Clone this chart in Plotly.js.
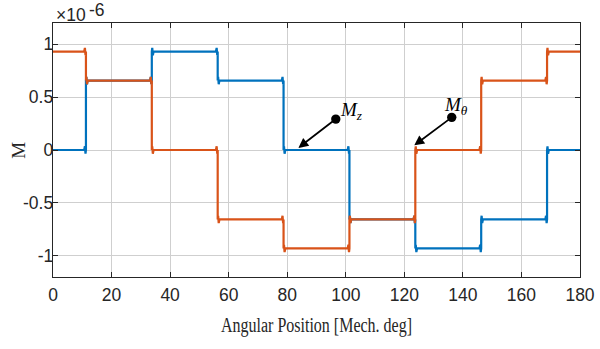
<!DOCTYPE html>
<html>
<head>
<meta charset="utf-8">
<script src="https://cdn.plot.ly/plotly-3.0.1.min.js"></script>
<style>
  html, body { margin: 0; padding: 0; background: #fff; }
  #chart { width: 600px; height: 349px; }
  /* narrow, tall serif look for the x-axis caption */
  #chart .xtitle { transform-box: fill-box; transform-origin: center; transform: scaleX(0.8); }
</style>
</head>
<body>
<div id="chart"></div>
<script>
// Switching angles (mech. deg) where both components step
const edges = [11.25, 33.75, 56.25, 78.75, 101.25, 123.75, 146.25, 168.75];
// Plateau levels between the edges, in units of 1e-6
const mzLevels = [0, 0.656, 0.93, 0.656, 0, -0.656, -0.93, -0.656, 0];
const mthetaLevels = [0.93, 0.656, 0, -0.656, -0.93, -0.656, 0, 0.656, 0.93];
// Small ringing at each plateau edge, in units of 1e-6
const ripple = 0.035;
const xStart = 0, xEnd = 180;
const tickX = [0, 20, 40, 60, 80, 100, 120, 140, 160, 180];
const tickY = [-1, -0.5, 0, 0.5, 1];
const tickYText = ['-1', '-0.5', '0', '0.5', '1'];

// Build a stepped waveform with short ringing on both sides of each edge
function stepped(levels) {
  const x = [xStart], y = [levels[0]];
  edges.forEach((e, i) => {
    const a = levels[i], b = levels[i + 1];
    x.push(e - 0.6, e - 0.35, e - 0.15, e);
    y.push(a, a + ripple, a - ripple, a);
    x.push(e, e + 0.15, e + 0.35, e + 0.6);
    y.push(b, b + ripple, b - ripple, b);
  });
  x.push(xEnd); y.push(levels[levels.length - 1]);
  return { x, y };
}

const mz = stepped(mzLevels);
const mth = stepped(mthetaLevels);

const ink = '#262626';
const sans = 'Liberation Sans, Arial, sans-serif';
const serif = 'Liberation Serif, Times New Roman, serif';

const traces = [
  { x: mz.x, y: mz.y, mode: 'lines', name: 'Mz',
    line: { color: '#0072BD', width: 2.2 }, hoverinfo: 'skip' },
  { x: mth.x, y: mth.y, mode: 'lines', name: 'Mθ',
    line: { color: '#D95319', width: 2.2 }, hoverinfo: 'skip' }
];

const axisCommon = {
  showgrid: true, gridcolor: '#cfcfcf', gridwidth: 1,
  showline: true, linecolor: ink, linewidth: 1.3, mirror: 'ticks',
  ticks: 'inside', ticklen: 5, tickwidth: 1, tickcolor: ink,
  zeroline: false,
  tickfont: { family: sans, size: 17.5, color: ink }
};

const pointer = (tipX, tipY, tailX, tailY) => ({
  x: tipX, y: tipY, ax: tailX, ay: tailY,
  xref: 'x', yref: 'y', axref: 'x', ayref: 'y',
  showarrow: true, arrowside: 'end+start', arrowhead: 2, arrowsize: 1.1,
  startarrowhead: 6, startarrowsize: 1.3,
  arrowwidth: 1.8, arrowcolor: '#000', text: ''
});

const label = (text, x, y) => ({
  x: x, y: y, xref: 'x', yref: 'y', xanchor: 'left', yanchor: 'bottom',
  showarrow: false, text: text,
  font: { family: serif, size: 19, color: '#000' }
});

const layout = {
  width: 600, height: 349,
  margin: { l: 53, r: 20, t: 23, b: 72 },
  paper_bgcolor: '#fff', plot_bgcolor: '#fff',
  showlegend: false,
  xaxis: Object.assign({}, axisCommon, {
    range: [xStart, xEnd], tickvals: tickX, ticklabelstandoff: 2,
    title: { text: 'Angular Position [Mech. deg]', standoff: 13,
      font: { family: serif, size: 20, color: ink } }
  }),
  yaxis: Object.assign({}, axisCommon, {
    range: [-1.2, 1.2], tickvals: tickY, ticktext: tickYText, ticklabelstandoff: -5
  }),
  annotations: [
    // vertical axis caption, sitting close to the tick labels
    { xref: 'paper', yref: 'paper', x: -0.067, y: 0.5, xanchor: 'center', yanchor: 'middle',
      textangle: -90, showarrow: false, text: 'M',
      font: { family: serif, size: 19, color: ink } },
    { xref: 'paper', yref: 'paper', x: 0, y: 1, xanchor: 'left', yanchor: 'bottom',
      xshift: 1, yshift: -4, showarrow: false, text: '×10',
      font: { family: sans, size: 17.5, color: ink } },
    { xref: 'paper', yref: 'paper', x: 0, y: 1, xanchor: 'left', yanchor: 'bottom',
      xshift: 34, yshift: 1, showarrow: false, text: '-6',
      font: { family: sans, size: 17.5, color: ink } },
    pointer(83.8, 0.02, 97.1, 0.303),
    pointer(123.4, 0.044, 136.7, 0.319),
    label('<i>M</i><sub><i>z</i></sub>', 97.2, 0.24),
    label('<i>M</i><sub><i>θ</i></sub>', 133.0, 0.28)
  ]
};

Plotly.newPlot('chart', traces, layout, { displayModeBar: false, staticPlot: true });
</script>
</body>
</html>
